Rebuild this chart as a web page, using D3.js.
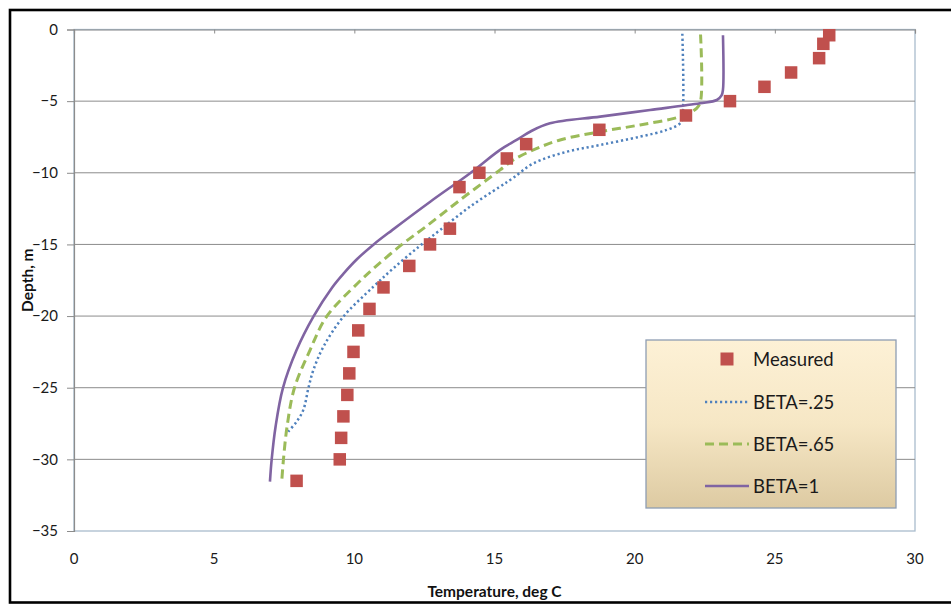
<!DOCTYPE html>
<html>
<head>
<meta charset="utf-8">
<script src="https://cdn.jsdelivr.net/npm/d3@7/dist/d3.min.js"></script>
<style>
  html, body { margin: 0; padding: 0; background: #fff; }
  svg { display: block; }
</style>
</head>
<body>
<svg id="chart" width="951" height="604"></svg>
<script>
// Measured temperature profile (deg C vs depth in m)
const measuredTemp  = [26.94, 26.73, 26.58, 25.58, 24.63, 23.40, 21.83, 18.74, 16.13, 15.44, 14.46, 13.75, 13.41, 12.70, 11.96, 11.04, 10.54, 10.14, 9.97, 9.82, 9.75, 9.61, 9.53, 9.48, 7.94];
const measuredDepth = [-0.4, -1, -2, -3, -4, -5, -6, -7, -8, -9, -10, -11, -13.9, -15, -16.5, -18, -19.5, -21, -22.5, -24, -25.5, -27, -28.5, -30, -31.5];

// Model profiles for three BETA values
const beta25Depth = [-0.3, -6.2, -6.55, -7.01, -7.48, -8.06, -8.53, -9.34, -10.38, -11.0, -12.36, -13.99, -15.16, -16.67, -17.95, -20.04, -22.13, -23.76, -25.04, -26.55, -27.37, -28.07];
const beta25Temp  = [21.7, 21.7, 21.62, 21.14, 20.19, 18.77, 17.58, 16.39, 15.65, 15.17, 14.13, 13.06, 12.3, 11.39, 10.68, 9.61, 8.9, 8.54, 8.36, 8.18, 7.94, 7.64];

const beta65Depth = [-0.35, -5.0, -5.5, -6.08, -6.66, -7.13, -7.71, -8.35, -9.1, -9.8, -11.9, -13.76, -15.0, -16.55, -17.71, -20.04, -22.37, -25.04, -27.72, -30.04, -31.55];
const beta65Temp  = [22.35, 22.35, 22.21, 21.62, 20.19, 18.77, 17.34, 16.45, 15.67, 15.2, 13.77, 12.55, 11.7, 10.76, 10.12, 9.01, 8.42, 7.86, 7.6, 7.47, 7.41];

const beta1Depth = [-0.4, -4.2, -4.6, -4.92, -5.15, -5.62, -6.08, -6.55, -7.1, -7.71, -8.4, -10.03, -12.0, -14.0, -15.0, -16.0, -17.0, -18.0, -20.04, -22.37, -25.04, -27.72, -30.04, -31.55];
const beta1Temp  = [23.15, 23.15, 23.1, 22.93, 22.33, 20.55, 18.77, 16.98, 16.3, 15.79, 15.2, 14.13, 12.72, 11.35, 10.69, 10.11, 9.63, 9.21, 8.54, 7.94, 7.45, 7.19, 7.05, 6.99];

const xTicks = [0, 5, 10, 15, 20, 25, 30];
const yTicks = [0, -5, -10, -15, -20, -25, -30, -35];

const legendLabels = ["Measured", "BETA=.25", "BETA=.65", "BETA=1"];

const svg = d3.select("#chart");
const font = "Lato, 'Open Sans', sans-serif";

// Outer chart frame
svg.append("rect")
  .attr("x", 10).attr("y", 10)
  .attr("width", 970).attr("height", 592.5)
  .attr("fill", "#fff").attr("stroke", "#000").attr("stroke-width", 2.6);

const plot = { left: 74, right: 915, top: 29.5, bottom: 531 };

const x = d3.scaleLinear().domain([0, 30]).range([plot.left, plot.right]);
const y = d3.scaleLinear().domain([-35, 0]).range([plot.bottom, plot.top]);

// Plot area border
svg.append("rect")
  .attr("x", plot.left).attr("y", plot.top)
  .attr("width", plot.right - plot.left).attr("height", plot.bottom - plot.top)
  .attr("fill", "#fff").attr("stroke", "#a9bccd").attr("stroke-width", 1.3);

// Horizontal gridlines
svg.append("g")
  .selectAll("line")
  .data(yTicks.filter(d => d > -35 && d < 0))
  .join("line")
  .attr("x1", plot.left).attr("x2", plot.right)
  .attr("y1", d => y(d)).attr("y2", d => y(d))
  .attr("stroke", "#8c8c8c").attr("stroke-width", 1);

// Y axis (left, ticks outward, labels to the left)
const yAxis = svg.append("g")
  .attr("transform", `translate(${plot.left},0)`)
  .call(d3.axisLeft(y).tickValues(yTicks).tickSize(7).tickPadding(9).tickFormat(d3.format("d")));
yAxis.select(".domain").attr("stroke", "#8c8c8c").attr("stroke-width", 1.2);
yAxis.selectAll(".tick line").attr("stroke", "#8c8c8c");
yAxis.selectAll(".tick text")
  .attr("font-family", font).attr("font-size", 15).attr("fill", "#1a1a1a");

// X axis drawn along depth 0 with ticks pointing down; labels sit below the plot
const xAxis = svg.append("g")
  .attr("transform", `translate(0,${y(0)})`)
  .call(d3.axisBottom(x).tickValues(xTicks).tickSize(4).tickFormat(() => ""));
xAxis.select(".domain").attr("stroke", "#8c8c8c").attr("stroke-width", 1.2);
xAxis.selectAll(".tick line").attr("stroke", "#8c8c8c");

svg.append("g")
  .selectAll("text")
  .data(xTicks)
  .join("text")
  .attr("x", d => x(d)).attr("y", 558)
  .attr("text-anchor", "middle").attr("dominant-baseline", "central")
  .attr("font-family", font).attr("font-size", 15).attr("fill", "#1a1a1a")
  .text(d => d);

// Axis titles
svg.append("text")
  .attr("x", (plot.left + plot.right) / 2).attr("y", 591)
  .attr("text-anchor", "middle").attr("dominant-baseline", "central")
  .attr("font-family", font).attr("font-weight", "bold").attr("font-size", 15.5).attr("fill", "#111")
  .text("Temperature, deg C");

svg.append("text")
  .attr("transform", `translate(27,${(plot.top + plot.bottom) / 2}) rotate(-90)`)
  .attr("text-anchor", "middle").attr("dominant-baseline", "central")
  .attr("font-family", font).attr("font-weight", "bold").attr("font-size", 15.5).attr("fill", "#111")
  .text("Depth, m");

// Model curves
const line = d3.line()
  .x(d => x(d[0])).y(d => y(d[1]))
  .curve(d3.curveCatmullRom.alpha(0.5));

const series = [
  { temp: beta25Temp, depth: beta25Depth, color: "#4f81bd", width: 2.5, dash: "2.2 2.8" },
  { temp: beta65Temp, depth: beta65Depth, color: "#9bbb59", width: 3,   dash: "9 5" },
  { temp: beta1Temp,  depth: beta1Depth,  color: "#8064a2", width: 2.6, dash: null }
];

series.forEach(s => {
  svg.append("path")
    .datum(s.temp.map((t, i) => [t, s.depth[i]]))
    .attr("d", line)
    .attr("fill", "none")
    .attr("stroke", s.color)
    .attr("stroke-width", s.width)
    .attr("stroke-dasharray", s.dash);
});

// Measured points
const sq = 12.5;
svg.append("g")
  .selectAll("rect")
  .data(measuredTemp.map((t, i) => [t, measuredDepth[i]]))
  .join("rect")
  .attr("x", d => x(d[0]) - sq / 2).attr("y", d => y(d[1]) - sq / 2)
  .attr("width", sq).attr("height", sq)
  .attr("fill", "#c0504d");

// Legend
const defs = svg.append("defs");
const grad = defs.append("linearGradient")
  .attr("id", "legendFill").attr("x1", 0).attr("y1", 0).attr("x2", 0).attr("y2", 1);
grad.append("stop").attr("offset", "0%").attr("stop-color", "#fdf1d6");
grad.append("stop").attr("offset", "50%").attr("stop-color", "#f6e7c5");
grad.append("stop").attr("offset", "100%").attr("stop-color", "#ddcaa2");

const lg = svg.append("g");
lg.append("rect")
  .attr("x", 646).attr("y", 340).attr("width", 250).attr("height", 168)
  .attr("fill", "url(#legendFill)").attr("stroke", "#8e9db3").attr("stroke-width", 1.3);

const rowY = [359, 402, 444, 486];
legendLabels.forEach((label, i) => {
  if (i === 0) {
    lg.append("rect")
      .attr("x", 727 - 6.5).attr("y", rowY[i] - 6.5).attr("width", 13).attr("height", 13)
      .attr("fill", "#c0504d");
  } else {
    const s = series[i - 1];
    lg.append("line")
      .attr("x1", 705).attr("x2", 749)
      .attr("y1", rowY[i]).attr("y2", rowY[i])
      .attr("stroke", s.color).attr("stroke-width", s.width)
      .attr("stroke-dasharray", s.dash);
  }
  lg.append("text")
    .attr("x", 753).attr("y", rowY[i])
    .attr("dominant-baseline", "central")
    .attr("font-family", font).attr("font-size", 18.5).attr("fill", "#1a1a1a")
    .text(label);
});
</script>
</body>
</html>
